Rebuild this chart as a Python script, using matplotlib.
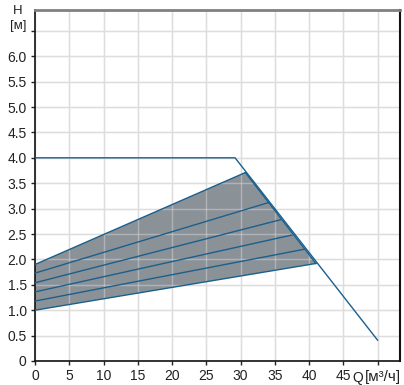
import numpy as np
import matplotlib
matplotlib.use('Agg')
import matplotlib.pyplot as plt

plt.rcParams['font.family'] = ['Liberation Sans', 'DejaVu Sans']

# max curve
max_q = [0, 29.2, 50]
max_h = [4.0, 4.0, 0.41]

# control lines: start at Q=0, end on the right boundary
start_h = [1.90, 1.73, 1.54, 1.36, 1.18, 1.00]
end_q = [30.7, 34.1, 35.8, 37.5, 39.3, 41.0]
end_h = [3.71, 3.12, 2.78, 2.48, 2.20, 1.92]

x_ticks = [0, 5, 10, 15, 20, 25, 30, 35, 40, 45, 50]
x_labels = ['0', '5', '10', '15', '20', '25', '30', '35', '40', '45', '']
y_ticks = [0, 0.5, 1.0, 1.5, 2.0, 2.5, 3.0, 3.5, 4.0, 4.5, 5.0, 5.5, 6.0, 6.5]
y_labels = ['0', '0.5', '1.0', '1.5', '2.0', '2.5', '3.0', '3.5', '4.0', '4.5', '5.0', '5.5', '6.0', '']

blue = '#1b5f8c'
txt = '#222222'

fig = plt.figure(figsize=(4.04, 3.85), dpi=100)
ax = fig.add_axes([35 / 404, 24 / 385, 364.5 / 404, 351 / 385])

# shaded area
poly_x = [0, end_q[0], end_q[-1], 0]
poly_y = [start_h[0], end_h[0], end_h[-1], start_h[-1]]
ax.fill(poly_x, poly_y, color='#8b9297', zorder=1, lw=0)
ax.plot([end_q[0], end_q[-1]], [end_h[0], end_h[-1]], color=blue, lw=1, zorder=3)

for s, q, h in zip(start_h, end_q, end_h):
    ax.plot([0, q], [s, h], color=blue, lw=1, zorder=3)

ax.plot(max_q, max_h, color=blue, lw=1, zorder=3)

ax.set_xlim(0, 53.2)
ax.set_ylim(0, 6.91)
ax.set_xticks(x_ticks)
ax.set_xticklabels(x_labels)
ax.set_yticks(y_ticks)
ax.set_yticklabels(y_labels)
ax.grid(True, color='#dddddd', lw=1.0, zorder=0)
ax.set_axisbelow(True)
# gridlines show faintly over the shading
for t in x_ticks[1:]:
    ax.axvline(t, color='#dddddd', lw=1.0, alpha=0.45, zorder=2)
for t in y_ticks[1:]:
    ax.axhline(t, color='#dddddd', lw=1.0, alpha=0.45, zorder=2)

ax.tick_params(labelsize=10, colors=txt, length=3, width=1, pad=3)
for side in ['left', 'bottom']:
    ax.spines[side].set_color('#111111')
    ax.spines[side].set_linewidth(1.2)
ax.spines['right'].set_color('#111111')
ax.spines['right'].set_linewidth(1.5)
ax.spines['top'].set_color('#808080')
ax.spines['top'].set_linewidth(2)

fig.text(363.5 / 404, 1 - 378 / 385, 'Q', ha='right', va='center', fontsize=10, color=txt)
fig.text(364.5 / 404, 1 - 377 / 385, '[м³/ч]', ha='left', va='center', fontsize=11, color=txt)
fig.text(18 / 404, 1 - 11 / 385, 'H', ha='center', va='center', fontsize=9.5, color=txt)
fig.text(18 / 404, 1 - 26 / 385, '[м]', ha='center', va='center', fontsize=9.5, color=txt)

fig.savefig('out.png', dpi=100)
